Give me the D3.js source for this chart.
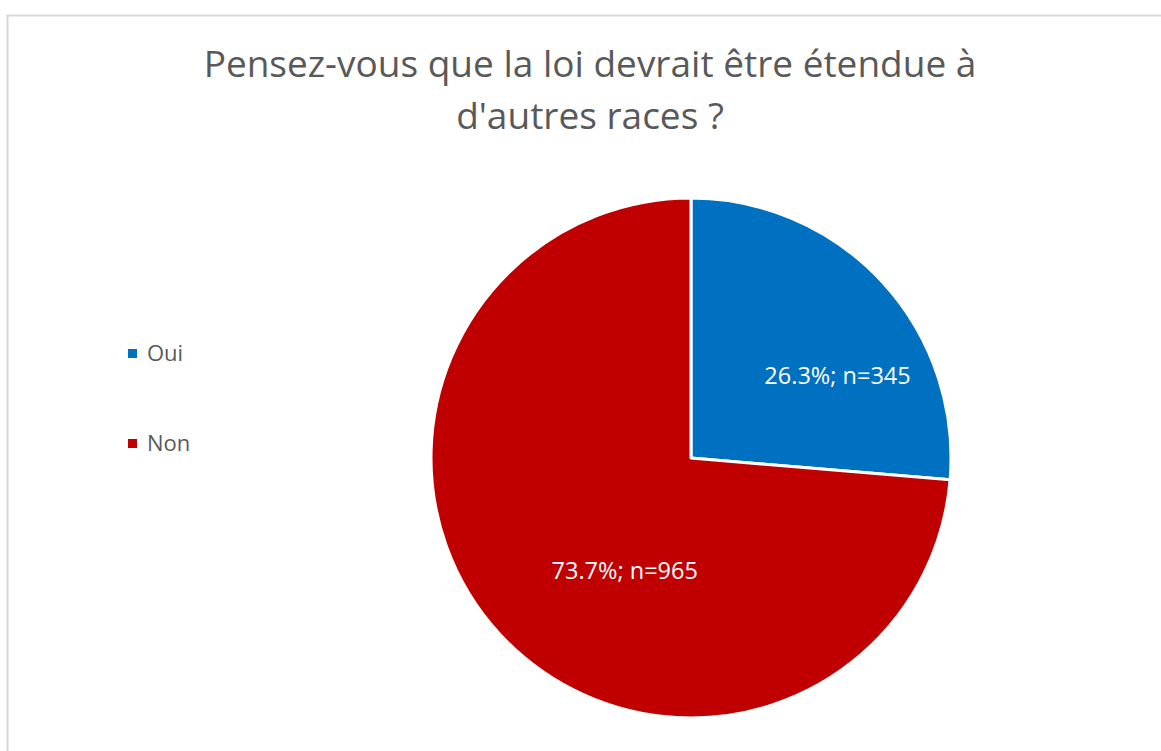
<!DOCTYPE html>
<html>
<head>
<meta charset="utf-8">
<script src="https://cdn.jsdelivr.net/npm/d3@7"></script>
<style>
  html, body { margin: 0; padding: 0; background: #fff; }
  svg { display: block; }
</style>
</head>
<body>
<svg id="chart"></svg>
<script>
const titleLines = ["Pensez-vous que la loi devrait être étendue à", "d'autres races ?"];
const categories = ["Oui", "Non"];
const counts = [345, 965];
const percents = [26.3, 73.7];
const colors = ["#0070c0", "#c00000"];
// label angle shift (radians) and radius fraction, like Excel's best-fit placement
const labelShift = [0.23, -0.296];
const labelRadius = [0.647, 0.503];

const width = 1161;
const height = 751;
const cx = 691, cy = 458, r = 260;
const font = "'Open Sans', 'Noto Sans', sans-serif";

const svg = d3.select('#chart').attr('width', width).attr('height', height);

svg.append('rect')
  .attr('x', 7.5).attr('y', 15.5)
  .attr('width', width).attr('height', height)
  .attr('fill', '#fff')
  .attr('stroke', '#d9d9d9')
  .attr('stroke-width', 2);

svg.append('g')
  .selectAll('text')
  .data(titleLines)
  .enter()
  .append('text')
  .attr('x', 590)
  .attr('y', (d, i) => 77 + i * 52)
  .attr('text-anchor', 'middle')
  .attr('font-family', font)
  .attr('font-size', 37)
  .attr('fill', '#595959')
  .text((d) => d);

const data = categories.map((c, i) => ({ label: c, value: counts[i], pct: percents[i], i }));
const pie = d3.pie().sort(null).value((d) => d.value);
const arcs = pie(data);
const arc = d3.arc().innerRadius(0).outerRadius(r);

const g = svg.append('g').attr('transform', `translate(${cx},${cy})`);

g.selectAll('path')
  .data(arcs)
  .enter()
  .append('path')
  .attr('d', arc)
  .attr('fill', (d) => colors[d.data.i])
  .attr('stroke', '#fff')
  .attr('stroke-width', 3)
  .attr('stroke-linejoin', 'round');

g.selectAll('text.lbl')
  .data(arcs)
  .enter()
  .append('text')
  .attr('class', 'lbl')
  .attr('transform', (d) => {
    const a = (d.startAngle + d.endAngle) / 2 + labelShift[d.data.i];
    const rr = r * labelRadius[d.data.i];
    return `translate(${Math.sin(a) * rr},${-Math.cos(a) * rr})`;
  })
  .attr('dy', '0.35em')
  .attr('text-anchor', 'middle')
  .attr('font-family', font)
  .attr('font-size', 23.5)
  .attr('fill', '#fff')
  .text((d) => `${d.data.pct.toFixed(1)}%; n=${d.data.value}`);

const legend = svg.append('g')
  .selectAll('g')
  .data(data)
  .enter()
  .append('g')
  .attr('transform', (d, i) => `translate(128,${353 + i * 90})`);

legend.append('rect')
  .attr('x', 0).attr('y', -4)
  .attr('width', 9).attr('height', 9)
  .attr('fill', (d) => colors[d.i]);

legend.append('text')
  .attr('x', 19)
  .attr('dy', '0.35em')
  .attr('font-family', font)
  .attr('font-size', 22)
  .attr('fill', '#595959')
  .text((d) => d.label);
</script>
</body>
</html>
